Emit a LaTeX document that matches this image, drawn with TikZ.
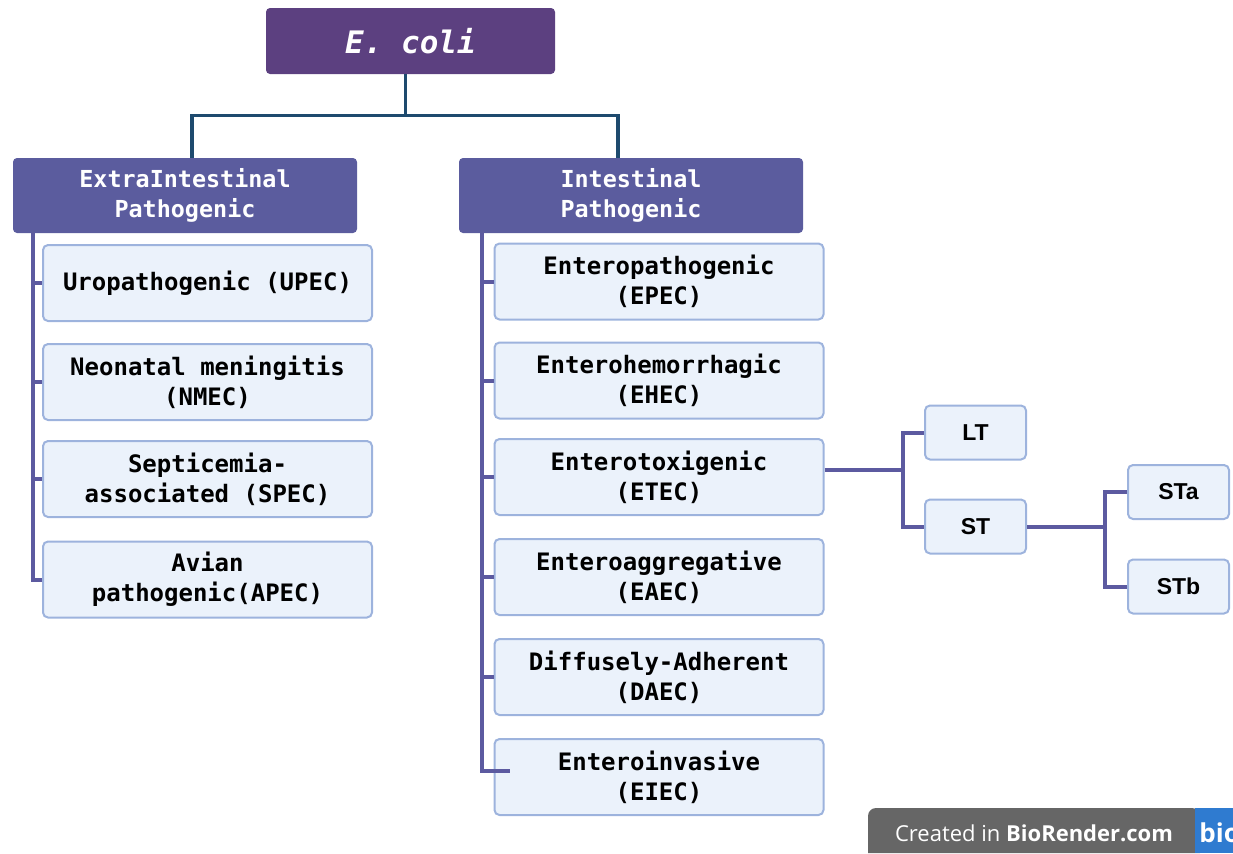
\documentclass[tikz,border=0pt]{standalone}
\usepackage{fontspec}
\setmonofont{DejaVu Sans Mono}
\setsansfont{Liberation Sans}
\newfontfamily\wmfont{Open Sans}
\definecolor{rootfill}{HTML}{5C4080}
\definecolor{headfill}{HTML}{5B5C9E}
\definecolor{leaffill}{HTML}{EBF2FB}
\definecolor{leafline}{HTML}{9DB3DD}
\definecolor{trunkcol}{HTML}{1E4A6E}
\definecolor{spinecol}{HTML}{5C5AA0}
\definecolor{wmgrey}{HTML}{666666}
\definecolor{wmblue}{HTML}{2F7BD0}

\begin{document}
\begin{tikzpicture}[x=0.5pt,y=-0.5pt,
  root/.style={rectangle,rounded corners=2pt,fill=rootfill,text=white,minimum width=144.5pt,minimum height=33pt,inner sep=0pt,font=\ttfamily\bfseries\itshape\fontsize{15.5}{18}\selectfont},
  head/.style={rectangle,rounded corners=2pt,fill=headfill,text=white,minimum width=172pt,minimum height=37.5pt,inner sep=0pt,align=center,font=\ttfamily\bfseries\fontsize{11.7}{15}\selectfont},
  leaf/.style={rectangle,rounded corners=2.5pt,draw=leafline,line width=1pt,fill=leaffill,text=black,minimum width=164.5pt,minimum height=38pt,inner sep=0pt,align=center,font=\ttfamily\bfseries\fontsize{12}{15}\selectfont},
  tox/.style={leaf,minimum width=50.5pt,minimum height=27pt,font=\sffamily\bfseries\fontsize{11.5}{14}\selectfont},
  trunk/.style={draw=trunkcol,line width=1.6pt},
  spine/.style={draw=spinecol,line width=2pt}]
  \useasboundingbox (0,0) rectangle (1233,853);
  % top levels
  \node[root] (ecoli) at (410.5,41) {E. coli};
  \node[head] (extra) at (185,195.5) {ExtraIntestinal\\Pathogenic};
  \node[head] (intest) at (631,195.5) {Intestinal\\Pathogenic};
  \draw[trunk] ([xshift=-2.5pt]ecoli.south) -- ++(0,42);
  \draw[trunk] ([xshift=3.5pt]extra.north) -- ++(0,-42) -| ([xshift=-6.5pt]intest.north);
  % extraintestinal branch
  \foreach \name/\txt/\y in {upec/{Uropathogenic (UPEC)}/283, nmec/{Neonatal meningitis\\(NMEC)}/382,
      spec/{Septicemia-\\associated (SPEC)}/479, apec/{Avian\\pathogenic(APEC)}/579.5}
    \node[leaf] (\name) at (207.5,\y) {\txt};
  \coordinate (lspine) at ([xshift=10pt]extra.south west);
  \draw[spine] (lspine) |- (apec.west);
  \foreach \n in {upec,nmec,spec} \draw[spine] (\n.west -| lspine) -- (\n.west);
  % intestinal branch
  \foreach \name/\txt/\y in {epec/{Enteropathogenic\\(EPEC)}/281.5, ehec/{Enterohemorrhagic\\(EHEC)}/380.5,
      etec/{Enterotoxigenic\\(ETEC)}/477, eaec/{Enteroaggregative\\(EAEC)}/577,
      daec/{Diffusely-Adherent\\(DAEC)}/677, eiec/{Enteroinvasive\\(EIEC)}/777}
    \node[leaf] (\name) at (659,\y) {\txt};
  \coordinate (rspine) at ([xshift=11.5pt]intest.south west);
  \draw[spine] (rspine) |- ([xshift=8pt,yshift=3pt]eiec.west);
  \foreach \n in {epec,ehec,etec,eaec,daec} \draw[spine] (\n.west -| rspine) -- (\n.west);
  % toxins of ETEC
  \node[tox] (lt) at (975.5,432.5) {LT};
  \node[tox] (st) at (975.5,526.5) {ST};
  \node[tox] (sta) at (1178.5,492) {STa};
  \node[tox] (stb) at (1178.5,586.5) {STb};
  \coordinate (tj) at (903,470);
  \coordinate (sj) at (1105,526.5);
  \draw[spine] ([yshift=3.5pt]etec.east) -- (tj);
  \draw[spine] (lt.west) -| (tj) |- (st.west);
  \draw[spine] (st.east) -- (sj);
  \draw[spine] (sta.west) -| (sj) |- (stb.west);
  % watermark
  \fill[wmgrey] (868,853) [rounded corners=4pt] |- (1200,808) [sharp corners] -- (1200,853) -- cycle;
  \fill[wmblue] (1195,808) rectangle (1233,853);
  \node[text=white,font=\wmfont\fontsize{11}{13}\selectfont] (wm) at (1034,833) {Created in \textbf{BioRender.com}};
  \begin{scope}
    \clip (1195,808) rectangle (1233,853);
    \node[anchor=west,text=white,inner sep=0pt,font=\wmfont\bfseries\fontsize{13}{15}\selectfont] (bio) at (1199,833) {bio};
  \end{scope}
\end{tikzpicture}
\end{document}
